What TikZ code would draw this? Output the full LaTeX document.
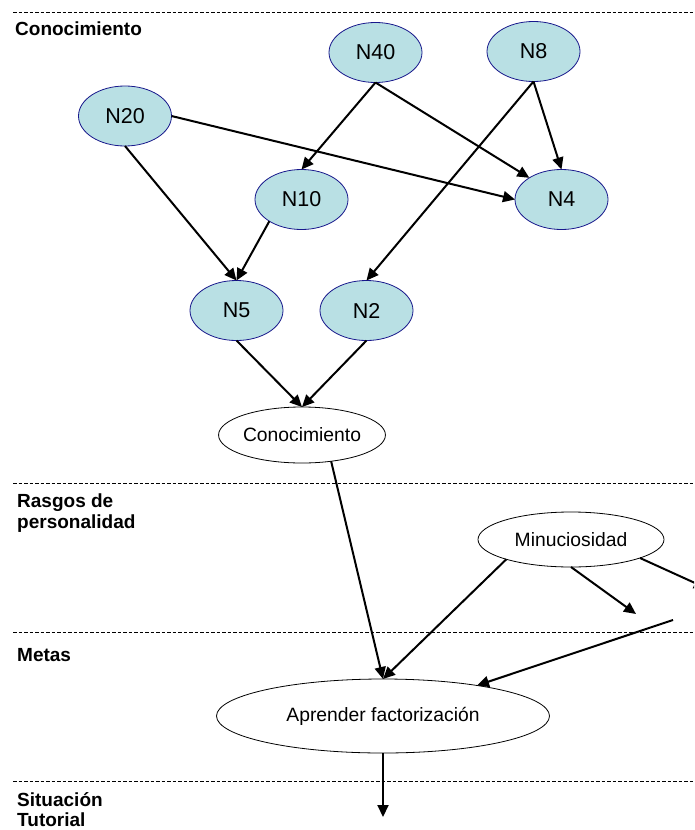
\documentclass[tikz,border=0pt]{standalone}
\usepackage{fontspec}
\setmainfont{Liberation Sans}
\usetikzlibrary{shapes.geometric,arrows.meta}

\definecolor{nodefill}{RGB}{185,224,228}
\definecolor{nodeline}{RGB}{24,24,140}

\tikzset{
  knode/.style={ellipse, draw=nodeline, fill=nodefill, line width=0.8pt,
    inner sep=0pt, outer sep=0pt, minimum width=93pt, minimum height=60pt,
    font=\fontsize{21.5}{24}\selectfont},
  wnode/.style={ellipse, draw=black, fill=white, line width=0.8pt,
    inner sep=0pt, outer sep=0pt, font=\fontsize{19.3}{22}\selectfont},
  layer/.style={anchor=base west, inner sep=0pt, text depth=0pt,
    font=\bfseries\fontsize{19}{21}\selectfont},
  sep/.style={dash pattern=on 3.5pt off 2pt, line width=1pt},
  arr/.style={line width=2pt, -{Triangle[length=12pt,width=11pt]}}
}

\begin{document}
\begin{tikzpicture}[x=1pt,y=-1pt]
\useasboundingbox (0,0) rectangle (694,830);
\clip (0,0) rectangle (694,830);
\fill[white] (0,0) rectangle (694,830);

% layer separators
\draw[sep] (13,12) -- (694,12);
\draw[sep] (13,483) -- (694,483);
\draw[sep] (13,632) -- (694,632);
\draw[sep] (13,781) -- (694,781);

% layer titles
\node[layer] (lconoc) at (15,35) {Conocimiento};
\node[layer] (lrasgos) at (17,507) {Rasgos de};
\node[layer] (lpers) at (17,528) {personalidad};
\node[layer] (lmetas) at (17,661) {Metas};
\node[layer] (lsit) at (17,806) {Situación};
\node[layer] (ltut) at (17,826) {Tutorial};

% knowledge nodes
\node[knode] (n40) at (375.5,52.5) {N40};
\node[knode] (n8) at (533.5,51.5) {N8};
\node[knode] (n20) at (125,116) {N20};
\node[knode] (n10) at (301.5,199.5) {N10};
\node[knode] (n4) at (561.5,199.5) {N4};
\node[knode] (n5) at (236.5,310.5) {N5};
\node[knode] (n2) at (366.5,310.5) {N2};

% aggregate, trait and goal nodes
\node[wnode, minimum width=150pt, minimum height=56pt] (conoc) at (302,435) {Conocimiento};
\node[wnode, minimum width=186pt, minimum height=55pt] (minu) at (571,539.5) {Minuciosidad};
\node[wnode, minimum width=333pt, minimum height=74pt] (apr) at (383,716) {Aprender factorización};

% free ends
\coordinate (d1) at (636,614);
\coordinate (d2) at (673,620);
\coordinate (d3) at (706,588);
\coordinate (d4) at (383,817);

% knowledge graph
\draw[arr] (n40.south) -- (n10.north);
\draw[arr] (n40.south) -- (n4.146);
\draw[arr] (n8.south) -- (n4.north);
\draw[arr] (n8.south) -- (n2.north);
\draw[arr] (n20.east) -- (n4.west);
\draw[arr] (n20.south) -- (n5.north);
\draw[arr] (n10.214) -- (n5.north);
\draw[arr] (n5.south) -- (conoc.north);
\draw[arr] (n2.south) -- (conoc.north);

% into the goal
\draw[arr] (conoc.-42) -- (apr.north);
\draw[arr] (minu.197) -- (apr.north);
\draw[arr] (minu.south) -- (d1);
\draw[arr] (minu.-15) -- (d3);
\draw[arr] (d2) -- (apr.18);
\draw[arr] (apr.south) -- (d4);
\end{tikzpicture}
\end{document}
